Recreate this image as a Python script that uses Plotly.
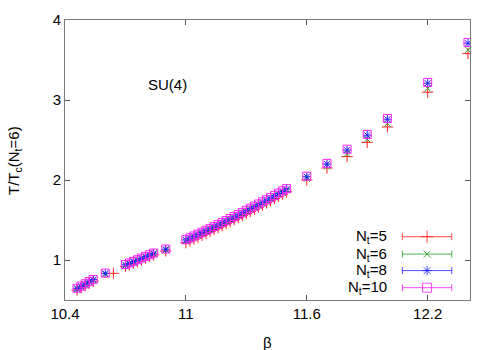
import plotly.graph_objects as go

# beta values (shared by Nt=6, 8, 10)
beta = [10.46, 10.48, 10.50, 10.52, 10.54, 10.60,
        10.70, 10.72, 10.74, 10.76, 10.78, 10.80, 10.82, 10.84, 10.90,
        11.00, 11.02, 11.04, 11.06, 11.08, 11.10, 11.12, 11.14, 11.16, 11.18,
        11.20, 11.22, 11.24, 11.26, 11.28, 11.30, 11.32, 11.34, 11.36, 11.38,
        11.40, 11.42, 11.44, 11.46, 11.48, 11.50,
        11.60, 11.70, 11.80, 11.90, 12.00, 12.20, 12.40]

# Nt=5 has its point at 10.64 instead of 10.60
beta_nt5 = [10.46, 10.48, 10.50, 10.52, 10.54, 10.64,
            10.70, 10.72, 10.74, 10.76, 10.78, 10.80, 10.82, 10.84, 10.90,
            11.00, 11.02, 11.04, 11.06, 11.08, 11.10, 11.12, 11.14, 11.16, 11.18,
            11.20, 11.22, 11.24, 11.26, 11.28, 11.30, 11.32, 11.34, 11.36, 11.38,
            11.40, 11.42, 11.44, 11.46, 11.48, 11.50,
            11.60, 11.70, 11.80, 11.90, 12.00, 12.20, 12.40]

t_nt5 = [0.625, 0.652, 0.680, 0.708, 0.735, 0.833,
         0.920, 0.940, 0.960, 0.980, 1.001, 1.022, 1.043, 1.064, 1.114,
         1.215, 1.238, 1.261, 1.285, 1.308, 1.332, 1.356, 1.380, 1.404, 1.429,
         1.454, 1.479, 1.504, 1.529, 1.555, 1.581, 1.607, 1.633, 1.660, 1.687,
         1.714, 1.741, 1.768, 1.796, 1.824, 1.852,
         2.000, 2.150, 2.292, 2.470, 2.663, 3.098, 3.580]

t_nt6 = [0.635, 0.662, 0.690, 0.718, 0.745, 0.823,
         0.930, 0.950, 0.970, 0.990, 1.011, 1.032, 1.053, 1.074, 1.124,
         1.232, 1.255, 1.278, 1.302, 1.325, 1.349, 1.373, 1.397, 1.421, 1.446,
         1.471, 1.496, 1.521, 1.546, 1.572, 1.598, 1.624, 1.650, 1.677, 1.704,
         1.731, 1.758, 1.785, 1.813, 1.841, 1.869,
         2.015, 2.170, 2.330, 2.510, 2.705, 3.145, 3.628]

t_nt8 = [0.645, 0.672, 0.700, 0.728, 0.755, 0.833,
         0.940, 0.960, 0.980, 1.000, 1.021, 1.042, 1.063, 1.084, 1.134,
         1.250, 1.273, 1.296, 1.320, 1.343, 1.367, 1.391, 1.415, 1.439, 1.464,
         1.489, 1.514, 1.539, 1.564, 1.590, 1.616, 1.642, 1.668, 1.695, 1.722,
         1.749, 1.776, 1.803, 1.831, 1.859, 1.887,
         2.040, 2.200, 2.375, 2.560, 2.760, 3.210, 3.710]

t_nt10 = [0.647, 0.674, 0.702, 0.730, 0.757, 0.836,
          0.943, 0.963, 0.983, 1.003, 1.024, 1.045, 1.066, 1.087, 1.137,
          1.254, 1.277, 1.300, 1.324, 1.347, 1.371, 1.395, 1.419, 1.444, 1.469,
          1.494, 1.519, 1.544, 1.569, 1.595, 1.621, 1.647, 1.673, 1.700, 1.727,
          1.754, 1.781, 1.808, 1.836, 1.864, 1.892,
          2.048, 2.208, 2.385, 2.570, 2.770, 3.220, 3.720]

labels = ['N<sub>t</sub>=5', 'N<sub>t</sub>=6', 'N<sub>t</sub>=8', 'N<sub>t</sub>=10']
x_ticks = [10.4, 11, 11.6, 12.2]
y_ticks = [1, 2, 3, 4]

FONT = 'Liberation Sans, Arial, sans-serif'

series = [
    (beta_nt5, t_nt5, '#ff2020', 'cross-thin-open', 8),
    (beta, t_nt6, '#20a020', 'x-thin-open', 6),
    (beta, t_nt8, '#2020ff', 'asterisk-open', 7),
    (beta, t_nt10, '#ff20ff', 'square-open', 8),
]

fig = go.Figure()

for (xs, ys, color, sym, size), name in zip(series, labels):
    fig.add_trace(go.Scatter(
        x=xs, y=ys, mode='markers', name=name, showlegend=False,
        marker=dict(symbol=sym, size=size, color=color,
                    line=dict(width=1, color=color)),
    ))

# gnuplot style key, drawn on an overlay axis (0..1)
key_y = [0.226, 0.164, 0.105, 0.044]
for (xs, ys, color, sym, size), name, ky in zip(series, labels, key_y):
    fig.add_trace(go.Scatter(
        x=[0.833, 0.955], y=[ky, ky], xaxis='x2', yaxis='y2',
        mode='lines+markers', showlegend=False, hoverinfo='skip',
        line=dict(color=color, width=0.8),
        marker=dict(symbol='line-ns-open', size=5, color=color,
                    line=dict(width=0.8, color=color)),
    ))
    fig.add_trace(go.Scatter(
        x=[0.894], y=[ky], xaxis='x2', yaxis='y2',
        mode='markers', showlegend=False, hoverinfo='skip',
        marker=dict(symbol=sym, size=size + 1, color=color,
                    line=dict(width=0.8, color=color)),
    ))
    fig.add_annotation(x=0.80, y=ky, xref='x2', yref='y2', text=name,
                       showarrow=False, xanchor='right', yanchor='middle',
                       font=dict(size=15, color='black', family=FONT))

fig.add_annotation(x=0.252, y=0.768, xref='paper', yref='paper', text='SU(4)',
                   showarrow=False, xanchor='center', yanchor='middle',
                   font=dict(size=15, color='black', family=FONT))
fig.add_annotation(x=0.5, y=-0.15, xref='paper', yref='paper', text='β',
                   showarrow=False, xanchor='center', yanchor='middle',
                   font=dict(size=15, color='black', family=FONT))
fig.add_annotation(x=-0.126, y=0.5, xref='paper', yref='paper',
                   text='T/T<sub>c</sub>(N<sub>t</sub>=6)', textangle=-90,
                   showarrow=False, xanchor='center', yanchor='middle',
                   font=dict(size=15, color='black', family=FONT))

axis_style = dict(showline=True, linecolor='#7a7a7a', linewidth=1,
                  ticks='inside', ticklen=5, tickcolor='#555555', tickwidth=1,
                  mirror='allticks', showgrid=False, zeroline=False,
                  tickfont=dict(size=15, color='black', family=FONT))

fig.update_layout(
    width=500, height=350,
    margin=dict(l=65, r=30, t=20, b=50),
    paper_bgcolor='white', plot_bgcolor='white',
    xaxis=dict(range=[10.4, 12.41], tickvals=x_ticks,
               ticktext=[str(v) for v in x_ticks], **axis_style),
    yaxis=dict(range=[0.5, 4], tickvals=y_ticks, **axis_style),
    xaxis2=dict(range=[0, 1], overlaying='x', visible=False),
    yaxis2=dict(range=[0, 1], overlaying='y', visible=False),
    font=dict(family=FONT),
)

# drop the default page margin so the figure sits at the window's corner
fig.write_html('out.html', config={'displayModeBar': False},
               post_script="document.body.style.margin='0';")
